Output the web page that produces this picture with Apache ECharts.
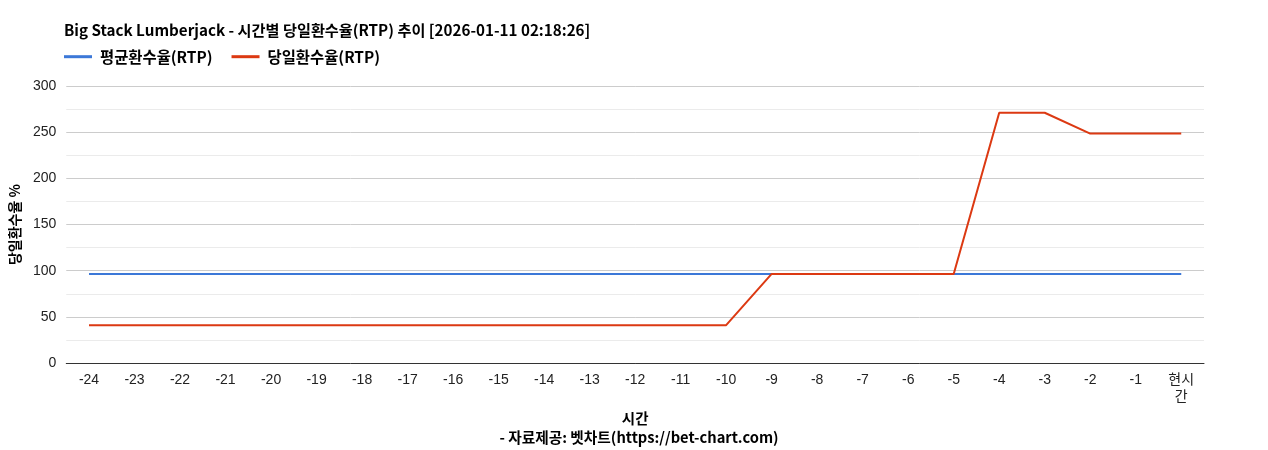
<!DOCTYPE html>
<html><head><meta charset="utf-8">
<script src="https://cdn.jsdelivr.net/npm/echarts@6/dist/echarts.min.js"></script>
<style>html,body{margin:0;padding:0;background:#fff}#c{width:1268px;height:450px}</style>
</head><body><div id="c"></div>
<script>
var categories = ['-24','-23','-22','-21','-20','-19','-18','-17','-16','-15','-14','-13','-12','-11','-10','-9','-8','-7','-6','-5','-4','-3','-2','-1','현시\n간'];
var avgRtp = [96.5,96.5,96.5,96.5,96.5,96.5,96.5,96.5,96.5,96.5,96.5,96.5,96.5,96.5,96.5,96.5,96.5,96.5,96.5,96.5,96.5,96.5,96.5,96.5,96.5];
var dayRtp = [41,41,41,41,41,41,41,41,41,41,41,41,41,41,41,96.5,96.5,96.5,96.5,96.5,271,271,248.5,248.5,248.5];
var yTicks = [0,50,100,150,200,250,300];

var boldFont = '"Noto Sans CJK KR", sans-serif';
var tickFont = '"Liberation Sans", Arial, "Noto Sans CJK KR", sans-serif';
var chart = echarts.init(document.getElementById('c'));
chart.setOption({
  animation:false,
  textStyle:{fontFamily:tickFont},
  title:[{
    text:'Big Stack Lumberjack - 시간별 당일환수율(RTP) 추이 [2026-01-11 02:18:26]',
    left:59, top:18,
    textStyle:{fontSize:15.2, fontWeight:'bold', color:'#000', fontFamily:boldFont}
  },{
    text:'- 자료제공: 벳차트(https://bet-chart.com)',
    left:634, top:425, textAlign:'center',
    textStyle:{fontSize:14.7, fontWeight:'bold', color:'#000', fontFamily:boldFont}
  }],
  legend:{
    left:59, top:44, itemWidth:28, itemHeight:3, itemGap:19,
    icon:'rect',
    textStyle:{fontSize:15.4, fontWeight:'bold', color:'#000', fontFamily:boldFont, padding:[0,0,0,3]},
    data:['평균환수율(RTP)','당일환수율(RTP)']
  },
  grid:{left:64, right:64, top:86, bottom:87, containLabel:false},
  xAxis:{
    type:'category', data:categories, boundaryGap:true,
    name:'시간', nameLocation:'middle', nameGap:43,
    nameTextStyle:{fontSize:14.5, fontWeight:'bold', color:'#000', fontFamily:boldFont},
    axisLine:{lineStyle:{color:'#333', width:1}},
    axisTick:{show:false},
    axisLabel:{fontSize:14, color:'#222', margin:9, interval:0, lineHeight:17, fontFamily:tickFont}
  },
  yAxis:{
    type:'value', min:0, max:300, interval:50,
    name:'당일환수율 %', nameLocation:'middle', nameGap:40, nameRotate:90,
    nameTextStyle:{fontSize:14, fontWeight:'bold', color:'#000', fontFamily:boldFont},
    axisLine:{show:false}, axisTick:{show:false},
    axisLabel:{fontSize:14, color:'#222', margin:10, fontFamily:tickFont},
    splitLine:{lineStyle:{color:'#ccc', width:1}},
    minorTick:{show:false, splitNumber:2},
    minorSplitLine:{show:true, lineStyle:{color:'#ebebeb', width:1}}
  },
  series:[{
    name:'평균환수율(RTP)', type:'line', data:avgRtp, symbol:'none',
    lineStyle:{color:'#3c78d8', width:2}, itemStyle:{color:'#3c78d8'}
  },{
    name:'당일환수율(RTP)', type:'line', data:dayRtp, symbol:'none',
    lineStyle:{color:'#dc3912', width:2}, itemStyle:{color:'#dc3912'}
  }]
});
</script></body></html>
